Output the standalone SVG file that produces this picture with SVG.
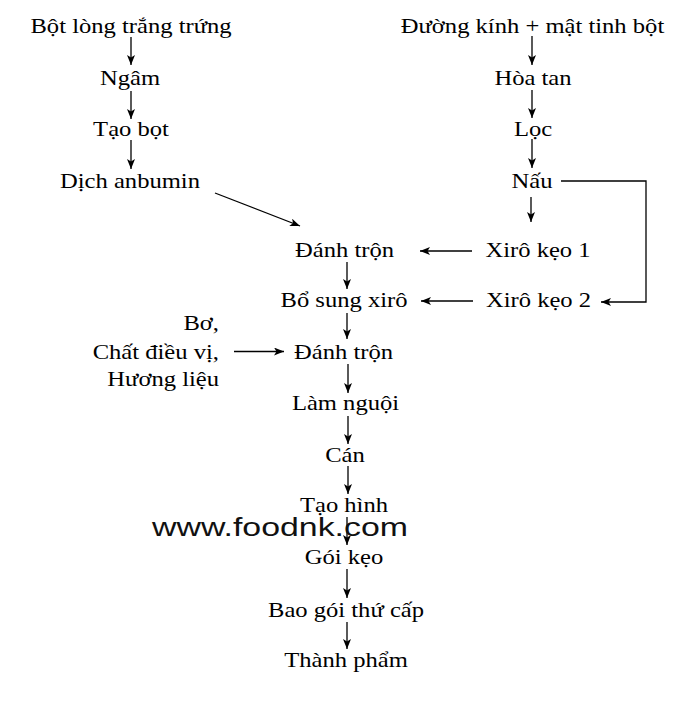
<svg xmlns="http://www.w3.org/2000/svg" width="696" height="701" viewBox="0 0 696 701">
<defs>
<style>
.t text{font-family:"Liberation Serif","Times New Roman",serif;font-size:20.5px;fill:#000;text-anchor:middle}
.t text.r{text-anchor:end}
.wm{font-family:"Liberation Sans",Arial,sans-serif;font-size:26px;fill:#111}
line,polyline{stroke:#000;stroke-width:1.3;fill:none}
</style>
<marker id="ah" markerWidth="12" markerHeight="10" refX="10" refY="4" orient="auto" markerUnits="userSpaceOnUse">
<path d="M0,0 L10,4 L0,8 L2.5,4 Z" fill="#000"/>
</marker>
</defs>
<rect width="696" height="701" fill="#fff"/>
<g class="t">
<g id="n1"><text transform="translate(131,33) scale(1.2,1)">Bột lòng trắng trứng</text></g>
<g id="n2"><text transform="translate(130,85) scale(1.2,1)">Ngâm</text></g>
<g id="n3"><text transform="translate(131,135.5) scale(1.2,1)">Tạo bọt</text></g>
<g id="n4"><text transform="translate(130,188) scale(1.2,1)">Dịch anbumin</text></g>
<g id="n5"><text transform="translate(532.5,33) scale(1.2,1)">Đường kính + mật tinh bột</text></g>
<g id="n6"><text transform="translate(533,85) scale(1.2,1)">Hòa tan</text></g>
<g id="n7"><text transform="translate(533,135.5) scale(1.2,1)">Lọc</text></g>
<g id="n8"><text transform="translate(532,188) scale(1.2,1)">Nấu</text></g>
<g id="n9"><text transform="translate(538,256.5) scale(1.2,1)">Xirô kẹo 1</text></g>
<g id="n10"><text transform="translate(538.5,307) scale(1.2,1)">Xirô kẹo 2</text></g>
<g id="n11"><text transform="translate(344.5,256.5) scale(1.2,1)">Đánh trộn</text></g>
<g id="n12"><text transform="translate(344,307) scale(1.2,1)">Bổ sung xirô</text></g>
<g id="n13"><text transform="translate(343.5,359) scale(1.2,1)">Đánh trộn</text></g>
<g id="n14"><text class="r" transform="translate(219,330) scale(1.2,1)">Bơ,</text><text class="r" transform="translate(219,359) scale(1.2,1)">Chất điều vị,</text><text class="r" transform="translate(219,386) scale(1.2,1)">Hương liệu</text></g>
<g id="n15"><text transform="translate(345.5,410) scale(1.2,1)">Làm nguội</text></g>
<g id="n16"><text transform="translate(345,461.5) scale(1.2,1)">Cán</text></g>
<g id="n17"><text transform="translate(344,512) scale(1.2,1)">Tạo hình</text></g>
<g id="n18"><text transform="translate(344,563.5) scale(1.2,1)">Gói kẹo</text></g>
<g id="n19"><text transform="translate(346,616.5) scale(1.2,1)">Bao gói thứ cấp</text></g>
<g id="n20"><text transform="translate(346,667) scale(1.2,1)">Thành phẩm</text></g>
</g>
<g id="connectors">
<line x1="131" y1="37" x2="131" y2="65" marker-end="url(#ah)"/>
<line x1="131" y1="91" x2="131" y2="119" marker-end="url(#ah)"/>
<line x1="131" y1="140" x2="131" y2="169" marker-end="url(#ah)"/>
<line x1="215" y1="193" x2="300" y2="226" marker-end="url(#ah)"/>
<line x1="532" y1="36" x2="532" y2="65" marker-end="url(#ah)"/>
<line x1="532" y1="90" x2="532" y2="118" marker-end="url(#ah)"/>
<line x1="532" y1="139" x2="532" y2="168" marker-end="url(#ah)"/>
<line x1="531" y1="197" x2="531" y2="222" marker-end="url(#ah)"/>
<polyline points="561,181 646,181 646,302 601,302" marker-end="url(#ah)"/>
<line x1="472" y1="251" x2="420" y2="251" marker-end="url(#ah)"/>
<line x1="473" y1="301" x2="421" y2="301" marker-end="url(#ah)"/>
<line x1="347" y1="262" x2="347" y2="289" marker-end="url(#ah)"/>
<line x1="347" y1="313" x2="347" y2="339" marker-end="url(#ah)"/>
<line x1="234" y1="351.5" x2="284" y2="351.5" marker-end="url(#ah)"/>
<line x1="348" y1="364" x2="348" y2="393" marker-end="url(#ah)"/>
<line x1="348" y1="416" x2="348" y2="444" marker-end="url(#ah)"/>
<line x1="348" y1="466" x2="348" y2="494" marker-end="url(#ah)"/>
<line x1="347" y1="517" x2="347" y2="545" marker-end="url(#ah)"/>
<line x1="347" y1="569" x2="347" y2="598" marker-end="url(#ah)"/>
<line x1="347" y1="622" x2="347" y2="649" marker-end="url(#ah)"/>
</g>
<text x="152" y="536" class="wm" textLength="256" lengthAdjust="spacingAndGlyphs">www.foodnk.com</text>
</svg>
